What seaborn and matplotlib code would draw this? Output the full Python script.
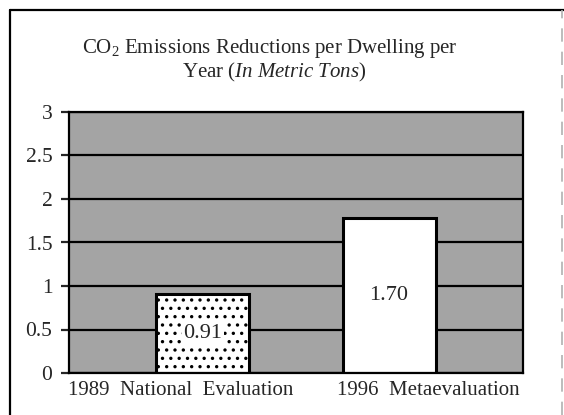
import seaborn as sns
import matplotlib.pyplot as plt
import matplotlib.transforms as mtransforms
from matplotlib.lines import Line2D

categories = ['1989  National  Evaluation', '1996  Metaevaluation']
heights = [0.91, 1.78]
bar_labels = ['0.91', '1.70']
yticks = [0, 0.5, 1, 1.5, 2, 2.5, 3]
ytick_labels = ['0', '0.5', '1', '1.5', '2', '2.5', '3']

sns.set_style('white')
plt.rcParams['font.family'] = ['Liberation Serif', 'DejaVu Serif']
plt.rcParams['mathtext.fontset'] = 'custom'
plt.rcParams['mathtext.rm'] = 'Liberation Serif'
plt.rcParams['mathtext.it'] = 'Liberation Serif:italic'
plt.rcParams['hatch.linewidth'] = 1.2

fig = plt.figure(figsize=(5.64, 4.15), dpi=100)
ax = fig.add_axes([69/564, 1-373/415, (523-69)/564, (373-112)/415])
ax.set_facecolor('#a4a4a4')

sns.barplot(x=categories, y=heights, width=0.5, color='white',
            edgecolor='black', linewidth=2.2, saturation=1, ax=ax)
ax.patches[0].set_hatch('..')

for i, t in enumerate(bar_labels):
    ax.text(i, heights[i]/2, t, ha='center', va='center', fontsize=16,
            bbox=dict(facecolor='white', edgecolor='none', pad=1))

ax.set_xlim(-0.72, 1.72)
ax.set_ylim(0, 3)
ax.set_yticks(yticks)
ax.set_yticklabels(ytick_labels, fontsize=15.5)
ax.yaxis.grid(True, color='black', lw=1.6)
ax.set_axisbelow(True)
ax.tick_params(axis='y', length=6, width=1.6, left=True, pad=6)
ax.tick_params(axis='x', length=0, labelsize=15, pad=6)
for s in ax.spines.values():
    s.set_color('black')
    s.set_linewidth(1.6)

# the printed labels sit off the bar centres
shifts = [-0.22, 0.39]
for lab, dx in zip(ax.get_xticklabels(), shifts):
    lab.set_transform(lab.get_transform() + mtransforms.ScaledTranslation(dx, 0, fig.dpi_scale_trans))
ax.set_xlabel('')
ax.set_ylabel('')

fig.text(270/564, 1-48/415, r'CO$_2$ Emissions Reductions per Dwelling per',
         ha='center', va='center', fontsize=15)
fig.text(274/564, 1-72/415, r'Year ($\mathit{In\ Metric\ Tons}$)',
         ha='center', va='center', fontsize=15)

# outer frame of the printed figure
fig.add_artist(Line2D([10/564, 10/564], [0, 1-10/415], color='black', lw=1.6))
fig.add_artist(Line2D([10/564, 1], [1-10/415, 1-10/415], color='black', lw=1.6))
fig.add_artist(Line2D([562/564, 562/564], [0, 1-10/415], color='#b0b0b0', lw=1.2, ls=(0, (8, 6))))

fig.savefig('out.png', dpi=100)
